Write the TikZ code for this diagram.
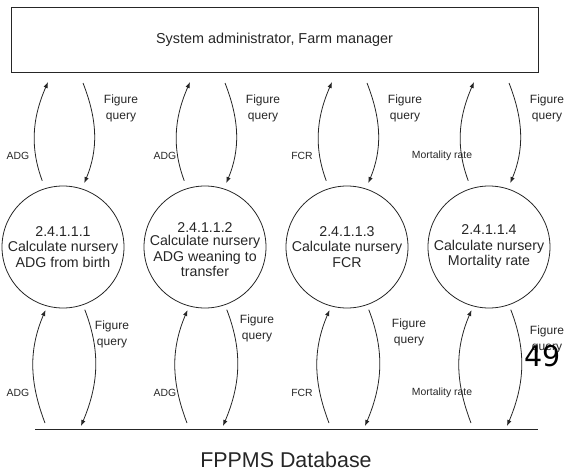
\documentclass[tikz,border=0pt]{standalone}
\usepackage{fontspec}
\setmainfont{Liberation Sans}
\newfontfamily\pagefont{DejaVu Sans}
\usetikzlibrary{arrows.meta}
\tikzset{
	proc/.style={circle,draw,line width=0.8pt,minimum size=122pt,inner sep=0pt},
	proctext/.style={align=center,font=\fontsize{14.2}{15.5}\selectfont},
	flow/.style={-{Latex[length=6pt,width=4.5pt]},line width=0.8pt,bend left=22},
	lbl/.style={font=\fontsize{10.4}{12}\selectfont},
	qry/.style={align=center,font=\fontsize{12}{16}\selectfont}
}

\begin{document}
\begin{tikzpicture}[x=1pt,y=-1pt,color=black!85]
			\useasboundingbox (0,0) rectangle (565,469);
			% Vẽ tác nhân
			\node[draw,line width=0.9pt,minimum width=527pt,minimum height=65pt,font=\fontsize{14.4}{16}\selectfont] (actor) at (274.5,39.5) {System administrator, Farm manager};
			% Vẽ các tiến trình
			\node[proc] (p1) at (63,247) {};
			\node[proc] (p2) at (205,247) {};
			\node[proc] (p3) at (347,247) {};
			\node[proc] (p4) at (489,247) {};
			\node[proctext] (t1) at (p1) {2.4.1.1.1\\Calculate nursery\\ADG from birth};
			\node[proctext] (t2) at (205,250) {2.4.1.1.2\\[-2.5pt]Calculate nursery\\ADG weaning to\\transfer};
			\node[proctext] (t3) at (p3) {2.4.1.1.3\\Calculate nursery\\FCR};
			\node[proctext] (t4) at (p4) {2.4.1.1.4\\Calculate nursery\\Mortality rate};
			% Vẽ kho dữ liệu
			\coordinate (dbl) at (35,429);
			\coordinate (dbr) at (538,429);
			\draw[line width=0.9pt] (dbl) -- (dbr);
			\node[inner sep=0pt,font=\fontsize{21.4}{24}\selectfont] (db) at (286,459.5) {FPPMS Database};
			% Vẽ luồng dữ liệu
			\foreach \n/\cx/\lab/\lx/\fx/\fy in {1/63/ADG/18/112/334,2/205/ADG/165/257/328,3/347/FCR/302/409/332,4/489/Mortality rate/442/547/339}{
			\coordinate (tu\n) at (\cx-15,82);
			\coordinate (td\n) at (\cx+20,83);
			\draw[flow,shorten <=8pt] (p\n.107) to (tu\n);
			\draw[flow,shorten >=6pt] (td\n) to (p\n.72);
			\node[lbl] (lt\n) at (\lx,156) {\lab};
			\node[qry] (qt\n) at (\cx+58,108) {Figure\\query};
			\coordinate (bu\n) at (\cx-18,423);
			\coordinate (bd\n) at (\cx+18,426);
			\draw[flow,shorten >=4pt] (bu\n) to (p\n.255);
			\draw[flow,shorten <=5pt] (p\n.289) to (bd\n);
			\node[lbl] (lb\n) at (\lx,393) {\lab};
			\node[qry] (qb\n) at (\fx,\fy) {Figure\\query};
			}
			\node[font=\pagefont\fontsize{28.5}{30}\selectfont,text=black] (pg) at (543,356) {49};
		\end{tikzpicture}
\end{document}
